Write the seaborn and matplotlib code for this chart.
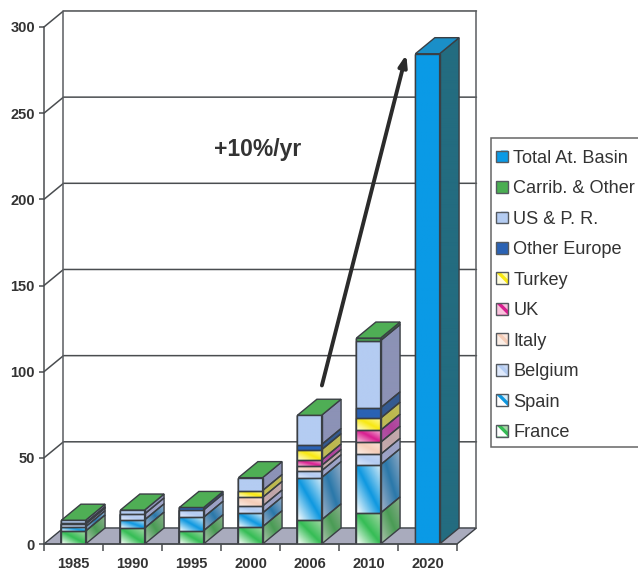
import numpy as np
import pandas as pd
import matplotlib
matplotlib.use('Agg')
import matplotlib.pyplot as plt
import seaborn as sns
from matplotlib.colors import LinearSegmentedColormap
from matplotlib.legend_handler import HandlerBase
from matplotlib.patches import Patch, Polygon, Rectangle

# values
years = ['1985', '1990', '1995', '2000', '2006', '2010', '2020']
france = [7.5, 9.2, 7.7, 10, 14, 18, 0]
spain = [2.5, 4.8, 7.8, 8, 24.5, 28, 0]
belgium = [1.5, 3.4, 4.2, 4, 4, 6, 0]
italy = [0, 0, 0, 5, 3, 7, 0]
uk = [0, 0, 0, 0, 3.2, 7, 0]
turkey = [0, 0, 0, 4, 6, 7, 0]
other_europe = [0.8, 0, 1.5, 0, 3, 6, 0]
us_pr = [1.5, 2.3, 0, 7.5, 17, 39, 0]
carrib = [0, 0, 0, 0, 0, 1.5, 0]
total_basin = [0, 0, 0, 0, 0, 0, 284.5]
y_ticks = [0, 50, 100, 150, 200, 250, 300]

series = ['France', 'Spain', 'Belgium', 'Italy', 'UK', 'Turkey', 'Other Europe',
          'US & P. R.', 'Carrib. & Other', 'Total At. Basin']
values = [france, spain, belgium, italy, uk, turkey, other_europe, us_pr, carrib, total_basin]

# front colours as low / mid / high of the gradient, then side colours
front = {'France': ['#ffffff', '#35bd55', '#a8d8a8'], 'Spain': ['#ffffff', '#0e98e0', '#d8ecf8'],
         'Belgium': ['#dfe9fb', '#b4ccf2', '#c8d8f5'], 'Italy': ['#fbeee6', '#f5cdb8', '#fbe6dc'],
         'UK': ['#f9c4dc', '#d81e90', '#f5c0da'], 'Turkey': ['#fffde0', '#f8e812', '#fffbb0'],
         'Other Europe': ['#2a62b4', '#2a62b4', '#2a62b4'], 'US & P. R.': ['#b4ccf2', '#b4ccf2', '#b4ccf2'],
         'Carrib. & Other': ['#4aae52', '#4aae52', '#4aae52'], 'Total At. Basin': ['#0a9ae6', '#0a9ae6', '#0a9ae6']}
side = {'France': ['#b0c4b0', '#4a9c55', '#8fb090'], 'Spain': ['#a8b4c8', '#2a78aa', '#9cb0c8'],
        'Belgium': ['#a2a8cc', '#9aa0c4', '#a2a8cc'], 'Italy': ['#c8aeb0', '#bfa4a8', '#c8aeb0'],
        'UK': ['#b05aa8', '#b0409a', '#b05aa8'], 'Turkey': ['#c0bc60', '#bcb84c', '#c0bc60'],
        'Other Europe': ['#345a90', '#345a90', '#345a90'], 'US & P. R.': ['#8c92b6', '#8c92b6', '#8c92b6'],
        'Carrib. & Other': ['#3c8a48', '#3c8a48', '#3c8a48'], 'Total At. Basin': ['#236c80', '#236c80', '#236c80']}

EDGE = '#3a3f44'
BAR_W = 0.41
DX, DY = 0.33, 9.3  # depth of the fake 3d, in data units


def gradient_image(ax, colors, x0, x1, y0, y1, clip):
    cmap = LinearSegmentedColormap.from_list('g', colors)
    u, v = np.meshgrid(np.linspace(0, 1, 40), np.linspace(0, 1, 40))
    im = ax.imshow((u + v) / 2, cmap=cmap, vmin=0, vmax=1, origin='lower', aspect='auto',
                   extent=(x0, x1, y0, y1), interpolation='bilinear', zorder=4)
    im.set_clip_path(clip)
    im.set_clip_box(ax.figure.bbox)


class SwatchHandler(HandlerBase):
    def create_artists(self, legend, orig, xd, yd, width, height, fontsize, trans):
        cols = front[orig.get_label()]
        s = 8.5
        x, y = -xd, -yd + (height - s) / 2
        base = Rectangle((x, y), s, s, facecolor=cols[1], edgecolor='none', transform=trans)
        corner = Polygon([(x, y), (x + s, y), (x, y + s)], facecolor=cols[0], edgecolor='none', transform=trans)
        corner2 = Polygon([(x + s, y + s), (x + s, y + s * .4), (x + s * .4, y + s)], facecolor=cols[2],
                          edgecolor='none', transform=trans)
        frame = Rectangle((x, y), s, s, facecolor='none', edgecolor='#555a60', linewidth=1, transform=trans)
        return [base, corner, corner2, frame]


sns.set_theme(style='white')
plt.rcParams['font.family'] = ['Liberation Sans', 'DejaVu Sans']

fig = plt.figure(figsize=(6.38, 5.72), dpi=100)
ax = fig.add_axes([44 / 638, (572 - 544) / 572, 413 / 638, 517 / 572])
ax.patch.set_alpha(0)

tops = np.cumsum(np.array(values, dtype=float), axis=0)
df = pd.DataFrame({'year': years * len(series),
                   'series': np.repeat(series, len(years)),
                   'top': tops.ravel()})

sns.barplot(data=df, x='year', y='top', hue='series', hue_order=series[::-1], dodge=False,
            palette={s: front[s][1] for s in series}, width=BAR_W, saturation=1, legend=False,
            edgecolor=EDGE, linewidth=1, zorder=3, ax=ax)

ax.set_xlim(-0.5, 6.5)
ax.set_ylim(0, 300)

# floor and walls
floor = Polygon([(-0.5, 0), (6.5, 0), (6.5 + DX, DY), (-0.5 + DX, DY)], facecolor='#a9abbd',
                edgecolor=EDGE, linewidth=1, zorder=1, clip_on=False)
ax.add_patch(floor)
for t in y_ticks[1:]:
    ax.plot([-0.5, -0.5 + DX, 6.5 + DX], [t, t + DY, t + DY], color='#4a4d50', lw=1.1, zorder=2, clip_on=False)
ax.plot([-0.5 + DX, -0.5 + DX], [DY, 300 + DY], color='#5a5d60', lw=1.1, zorder=2, clip_on=False)
ax.plot([6.5 + DX, 6.5 + DX], [DY, 300 + DY], color='#5a5d60', lw=1.1, zorder=2, clip_on=False)

# gradient fronts, side faces and tops of the stacks
for c in range(len(years)):
    x0, x1 = c - BAR_W / 2, c + BAR_W / 2
    low = 0
    for name, col, val in zip(series, tops, values):
        if val[c] <= 0:
            continue
        hi = col[c]
        fr = Rectangle((x0, low), BAR_W, hi - low, transform=ax.transData, facecolor='none')
        gradient_image(ax, front[name], x0, x1, low, hi, fr)
        ax.add_patch(Rectangle((x0, low), BAR_W, hi - low, facecolor='none', edgecolor=EDGE, lw=1, zorder=5))
        pts = [(x1, low), (x1 + DX, low + DY), (x1 + DX, hi + DY), (x1, hi)]
        sd = Polygon(pts, transform=ax.transData, facecolor='none')
        gradient_image(ax, side[name], x1, x1 + DX, low, hi + DY, sd)
        ax.add_patch(Polygon(pts, facecolor='none', edgecolor=EDGE, lw=1, zorder=5, clip_on=False))
        low = hi
    top_col = '#1a8fc8' if c == 6 else '#4fae55'
    ax.add_patch(Polygon([(x0, low), (x1, low), (x1 + DX, low + DY), (x0 + DX, low + DY)],
                         facecolor=top_col, edgecolor=EDGE, lw=1, zorder=5, clip_on=False))

# axes
sns.despine(ax=ax, top=True, right=True)
for sp in ['left', 'bottom']:
    ax.spines[sp].set_color('#4a4d50')
    ax.spines[sp].set_linewidth(1.1)
    ax.spines[sp].set_zorder(6)
ax.set_xlabel('')
ax.set_ylabel('')
ax.set_yticks(y_ticks)
ax.set_xticks(np.arange(-0.5, 7), minor=True)
ax.tick_params(axis='y', left=True, length=3.6, width=1.1, color='#4a4d50', pad=2.9, labelsize=10.5, labelcolor='#333333')
ax.tick_params(axis='x', which='major', bottom=False, length=0, pad=9, labelsize=10.5, labelcolor='#333333')
ax.tick_params(axis='x', which='minor', bottom=True, length=5, width=1.1, color='#4a4d50')
for lab in ax.get_xticklabels() + ax.get_yticklabels():
    lab.set_fontweight('bold')

# growth arrow and label
ax.annotate('', xy=(5.64, 284), xytext=(4.21, 92), zorder=7, annotation_clip=False,
            arrowprops=dict(arrowstyle='-|>,head_width=0.2,head_length=0.55', color='#2b2b2b', lw=2.8,
                            shrinkA=0, shrinkB=0))
ax.text(3.12, 229, '+10%/yr', fontsize=16.5, fontweight='bold', color='#333333', ha='center', va='center')

# legend, its box runs off the right edge like in the scan
fig.add_artist(Rectangle((491 / 638, 1 - 447 / 572), 155 / 638, 309 / 572, transform=fig.transFigure,
                         facecolor='white', edgecolor='#666666', linewidth=1.1))
handles = [Patch(label=s) for s in series[::-1]]
leg = fig.legend(handles=handles, handler_map={Patch: SwatchHandler()}, loc='upper left',
                 bbox_to_anchor=(496 / 638, 1 - 149.5 / 572), bbox_transform=fig.transFigure,
                 fontsize=13.1, frameon=False, borderaxespad=0, borderpad=0, labelspacing=0.725,
                 handlelength=0.5, handleheight=0.8, handletextpad=0.45, labelcolor='#333333')

fig.savefig('out.png', dpi=100, facecolor='white')
